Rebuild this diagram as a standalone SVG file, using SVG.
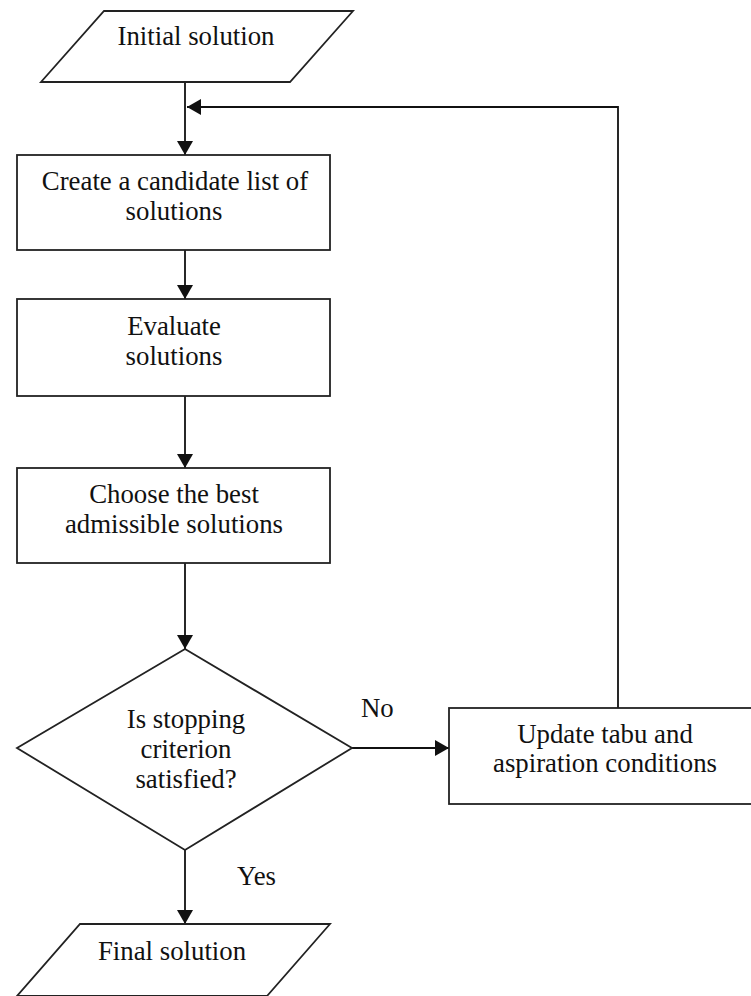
<svg xmlns="http://www.w3.org/2000/svg" width="751" height="996" viewBox="0 0 751 996">
  <style>
    .shape { fill: #ffffff; stroke: #222222; stroke-width: 1.8; }
    .edge { fill: none; stroke: #111111; stroke-width: 1.8; }
    text { font-size: 26.8px; fill: #111111; text-anchor: middle; }
    .lbl { text-anchor: start; }
  </style>
  <defs>
    <marker id="arrow" viewBox="0 0 14 16" refX="14" refY="8" markerWidth="14" markerHeight="16" markerUnits="userSpaceOnUse" orient="auto">
      <path d="M0,0 L14,8 L0,16 Z" fill="#111111"/>
    </marker>
  </defs>
  <rect width="751" height="996" fill="#ffffff"/>

  <g font-family="'Liberation Serif', 'DejaVu Serif', serif">
  <g id="connectors">
    <line class="edge" x1="185" y1="83" x2="185" y2="155" marker-end="url(#arrow)"/>
    <polyline class="edge" points="618,708 618,107 187,107" marker-end="url(#arrow)"/>
    <line class="edge" x1="185" y1="250" x2="185" y2="299" marker-end="url(#arrow)"/>
    <line class="edge" x1="185" y1="396" x2="185" y2="468" marker-end="url(#arrow)"/>
    <line class="edge" x1="185" y1="563" x2="185" y2="649" marker-end="url(#arrow)"/>
    <line class="edge" x1="352" y1="748" x2="449" y2="748" marker-end="url(#arrow)"/>
    <line class="edge" x1="185" y1="850" x2="185" y2="924" marker-end="url(#arrow)"/>
    <text class="lbl" x="361" y="717">No</text>
    <text class="lbl" x="237" y="885">Yes</text>
  </g>

  <g id="initial">
    <polygon class="shape" points="104,11 353,11 290,82 41,82"/>
    <text x="196" y="45">Initial solution</text>
  </g>

  <g id="candidates">
    <rect class="shape" x="17" y="155" width="313" height="95"/>
    <text x="175" y="190">Create a candidate list of</text>
    <text x="174" y="220">solutions</text>
  </g>

  <g id="evaluate">
    <rect class="shape" x="17" y="299" width="313" height="97"/>
    <text x="174" y="335">Evaluate</text>
    <text x="174" y="365">solutions</text>
  </g>

  <g id="choose">
    <rect class="shape" x="17" y="468" width="313" height="95"/>
    <text x="174" y="503">Choose the best</text>
    <text x="174" y="533">admissible solutions</text>
  </g>

  <g id="stop-check">
    <polygon class="shape" points="185,649 352,748 185,850 17,748"/>
    <text x="186" y="728">Is stopping</text>
    <text x="186" y="758">criterion</text>
    <text x="186" y="788">satisfied?</text>
  </g>

  <g id="update">
    <rect class="shape" x="449" y="708" width="313" height="96"/>
    <text x="605" y="743">Update tabu and</text>
    <text x="605" y="772">aspiration conditions</text>
  </g>

  <g id="final">
    <polygon class="shape" points="80,924 330,924 267,996 17,996"/>
    <text x="172" y="960">Final solution</text>
  </g>
  </g>
</svg>
